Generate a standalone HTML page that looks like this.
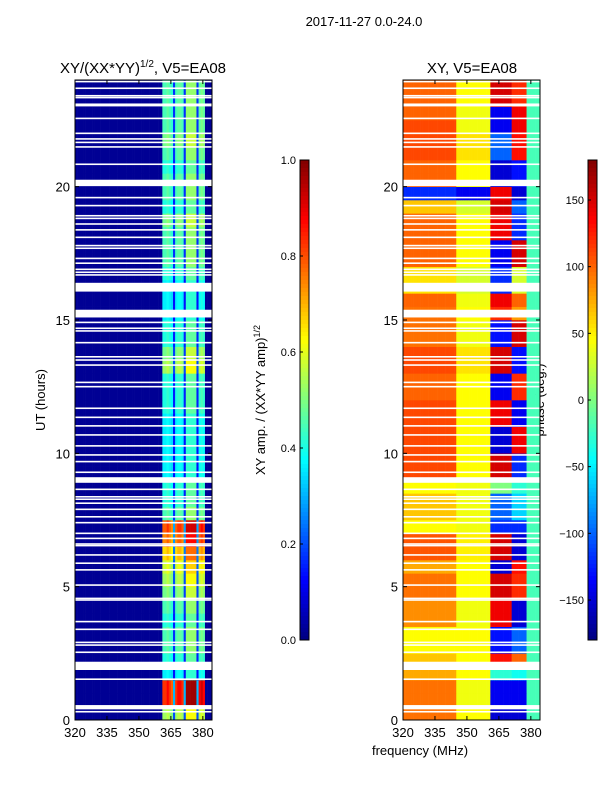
<!DOCTYPE html>
<html><head><meta charset="utf-8">
<style>
body{margin:0;background:#fff;font-family:"Liberation Sans",sans-serif;}
svg text{font-family:"Liberation Sans",sans-serif;fill:#000;}
</style></head>
<body>
<svg id="fig" width="600" height="800" viewBox="0 0 600 800" xmlns="http://www.w3.org/2000/svg">
<rect width="600" height="800" fill="#fff"/>
<text x="364" y="26" font-size="13" text-anchor="middle">2017-11-27 0.0-24.0</text>
<text x="143" y="73" font-size="15" text-anchor="middle">XY/(XX*YY)<tspan font-size="10" dy="-6">1/2</tspan><tspan dy="6">, V5=EA08</tspan></text>
<text x="472" y="73" font-size="15" text-anchor="middle">XY, V5=EA08</text>
<text transform="translate(45,400) rotate(-90)" font-size="13" text-anchor="middle">UT (hours)</text>
<text x="420" y="755" font-size="13" text-anchor="middle">frequency (MHz)</text>
<text transform="translate(265,400) rotate(-90)" font-size="13" text-anchor="middle">XY amp. / (XX*YY amp)<tspan font-size="9" dy="-5">1/2</tspan></text>
<text transform="translate(544,400) rotate(-90)" font-size="13" text-anchor="middle">phase (deg.)</text>
<g id="left"></g>
<g id="right"></g>
<g id="axes"></g>
</svg>
<script>
// ---------- data ----------
const freqStart = 320, freqEnd = 384.3, freqBin = 1;
const hourBin = 0.5;
const xTicks = [320, 335, 350, 365, 380];
const yTicks = [0, 5, 10, 15, 20];
const ampTicks = [0.0, 0.2, 0.4, 0.6, 0.8, 1.0];
const phaseTicks = [-150, -100, -50, 0, 50, 100, 150];
// amplitude band weight per 1 MHz bin (320..383)
const ampColWeight = [0,0,0,0,0,0,0,0,0,0, 0,0,0,0,0,0,0,0,0,0, 0,0,0,0,0,0,0,0,0,0, 0,0,0,0,0,0,0,0,0,0, 0,0.85,0.85,0.9,0.85,0.8,0.3,0.85,0.9,0.9, 0.85,0.3,1,1,1,1,1,0.3,0.9,0.95, 0.9,0,0,0];
const ampBase = 0.02;
// amplitude level per half-hour row (0h..24h)
const ampRowLevel = [0.6,0.95,0.95,0.4,0.45,0.5,0.5,0.45,0.5,0.55,0.6,0.65,0.75,0.85,0.9,0.5,0.45,0.45,0.4,0.4,0.4,0.4,0.4,0.45,0.45,0.45,0.6,0.55,0.45,0.45,0.4,0.4,0.4,0.45,0.5,0.5,0.5,0.55,0.45,0.5,0.5,0.45,0.5,0.55,0.5,0.5,0.5,0.5];
// phase per half-hour row for frequency groups
const phaseA = [95,95,95,75,65,45,45,85,85,95,95,75,105,105,45,65,65,45,110,110,110,110,110,110,100,100,110,110,95,95,95,100,55,55,100,100,100,100,65,-120,100,100,110,110,110,100,100,100];
const phaseB = [45,40,40,45,45,45,45,40,40,45,45,45,50,50,40,40,40,40,45,45,45,45,45,45,45,45,55,55,40,40,45,40,30,30,45,45,45,45,30,-140,45,45,55,55,40,40,45,45];
const phaseC = [-150,-140,-140,-30,130,-130,-130,140,140,150,150,-150,150,150,-120,-100,-100,0,150,150,-150,-150,140,140,-140,-140,150,150,-130,-130,120,140,-120,-120,-140,-140,140,140,150,140,-150,-150,-100,-100,-140,-140,150,150];
const phaseD = [-150,-140,-140,-40,100,-100,-100,-150,-150,120,120,130,-150,-150,-120,-60,-60,-30,-120,-120,140,140,-140,-140,120,120,-130,-130,150,150,80,100,30,30,150,150,-120,-120,-100,-150,-130,-130,130,130,140,140,120,120];
const phaseE = -20;
// flagged (white) gaps: [hour, width in hours]
const gaps = [[23.94,.06],[23.69,.06],[23.41,.06],[23.34,.06],[23.09,.06],[23.04,.06],[22.56,.06],[22.0,.06],[21.79,.06],[21.66,.06],[21.49,.06],[20.84,.06],[20.14,.24],[19.59,.06],[19.29,.06],[18.91,.06],[18.81,.06],[18.6,.06],[18.38,.06],[18.1,.06],[17.79,.06],[17.69,.06],[17.31,.06],[17.13,.06],[16.9,.06],[16.79,.06],[16.69,.06],[16.23,.33],[15.24,.29],[14.91,.06],[14.69,.06],[14.59,.06],[14.15,.06],[13.62,.06],[13.5,.06],[13.31,.06],[12.66,.06],[12.5,.06],[11.69,.06],[11.35,.06],[11.03,.06],[10.69,.06],[10.28,.06],[9.94,.06],[9.69,.06],[9.29,.06],[9.0,.21],[8.65,.06],[8.37,.06],[8.28,.06],[8.13,.06],[7.9,.06],[7.62,.06],[7.4,.06],[7.0,.06],[6.81,.06],[6.6,.06],[6.54,.06],[6.19,.06],[5.88,.06],[5.63,.06],[5.06,.06],[4.56,.06],[4.5,.06],[3.69,.06],[3.4,.06],[2.91,.06],[2.81,.06],[2.54,.06],[2.03,.31],[1.53,.06],[0.48,.16],[0.31,.06]];

// ---------- helpers ----------
const NS = "http://www.w3.org/2000/svg";
function jet(v){v=Math.max(0,Math.min(1,v));
  const f=(x)=>Math.max(0,Math.min(1,x));
  const r=f(Math.min(4*v-1.5,-4*v+4.5)), g=f(Math.min(4*v-0.5,-4*v+3.5)), b=f(Math.min(4*v+0.5,-4*v+2.5));
  return `rgb(${Math.round(r*255)},${Math.round(g*255)},${Math.round(b*255)})`;}
function mk(tag, attrs, parent){const e=document.createElementNS(NS,tag);for(const k in attrs)e.setAttribute(k,attrs[k]);parent.appendChild(e);return e;}
const plotTop=80, plotBot=720, plotH=640;
function yScale(h){return plotBot - h*(plotH/24);}
function xScaleL(f){return 75 + (f-freqStart)*(137/(freqEnd-freqStart));}
function xScaleR(f){return 403 + (f-freqStart)*(137/(freqEnd-freqStart));}
function phaseAt(r,f){ if(f<345) return phaseA[r]; if(f<361) return phaseB[r]; if(f<371) return phaseC[r]; if(f<378) return phaseD[r]; return phaseE; }

const L=document.getElementById('left'), R=document.getElementById('right'), A=document.getElementById('axes');
const nRows = ampRowLevel.length, nCols = ampColWeight.length;
for(let r=0;r<nRows;r++){
  const y0=yScale((r+1)*hourBin), y1=yScale(r*hourBin);
  for(let c=0;c<nCols;c++){
    const f0=freqStart+c*freqBin, f1=Math.min(freqEnd,f0+freqBin);
    const v=ampBase+ampRowLevel[r]*ampColWeight[c];
    const a=mk('rect',{x:xScaleL(f0),y:y0,width:xScaleL(f1)-xScaleL(f0)+0.3,height:y1-y0+0.3,fill:jet(v)},L);
    
    
    const p=phaseAt(r,f0+0.5);
    const b=mk('rect',{x:xScaleR(f0),y:y0,width:xScaleR(f1)-xScaleR(f0)+0.3,height:y1-y0+0.3,fill:jet((p+180)/360)},R);
    
    
  }
}
gaps.forEach(g=>{
  const yt=yScale(g[0]+g[1]/2), yb=yScale(g[0]-g[1]/2);
  const h=Math.max(1.5,yb-yt);
  const a=mk('rect',{x:75,y:yt,width:137,height:h,fill:'#fff'},L);
  
  
  const b=mk('rect',{x:403,y:yt,width:137,height:h,fill:'#fff'},R);
  
  
});
// frames, ticks
[[75,'left'],[403,'right']].forEach(([x0,nm])=>{
  const fr=mk('rect',{x:x0,y:plotTop,width:137,height:plotH,fill:'none',stroke:'#000','stroke-width':1},A);
  
  
  const xs = nm==='left'?xScaleL:xScaleR;
  xTicks.forEach(t=>{
    const x=xs(t);
    mk('line',{x1:x,x2:x,y1:plotBot,y2:plotBot-4,stroke:'#000'},A);
    mk('line',{x1:x,x2:x,y1:plotTop,y2:plotTop+4,stroke:'#000'},A);
    const tx=mk('text',{x:x,y:plotBot+17,'font-size':13,'text-anchor':'middle'},A);tx.textContent=t;
    
    
  });
  yTicks.forEach(t=>{
    const y=yScale(t);
    mk('line',{x1:x0,x2:x0+4,y1:y,y2:y,stroke:'#000'},A);
    mk('line',{x1:x0+137,x2:x0+133,y1:y,y2:y,stroke:'#000'},A);
    const tx=mk('text',{x:x0-5,y:y+5,'font-size':13,'text-anchor':'end'},A);tx.textContent=t;
    
    
  });
});
// colorbars
function colorbar(x0, vmin, vmax, ticks, fmt, nm){
  const g=mk('g',{},A);
  
  
  const top=160, bot=640, n=120;
  for(let i=0;i<n;i++){
    const y=top+(bot-top)*i/n;
    mk('rect',{x:x0,y:y,width:9,height:(bot-top)/n+0.5,fill:jet(1-(i+0.5)/n)},g);
  }
  mk('rect',{x:x0,y:top,width:9,height:bot-top,fill:'none',stroke:'#000'},g);
  ticks.forEach(t=>{
    const y=bot-(t-vmin)/(vmax-vmin)*(bot-top);
    mk('line',{x1:x0,x2:x0+3,y1:y,y2:y,stroke:'#000'},g);
    const tx=mk('text',{x:x0-4,y:y+4,'font-size':11,'text-anchor':'end'},g);tx.textContent=fmt(t);
    
    
  });
}
colorbar(300,0,1,ampTicks,t=>t.toFixed(1),'amp-colorbar');
colorbar(588,-180,180,phaseTicks,t=>t<0?'\u2212'+(-t):String(t),'phase-colorbar');
</script>
</body></html>
